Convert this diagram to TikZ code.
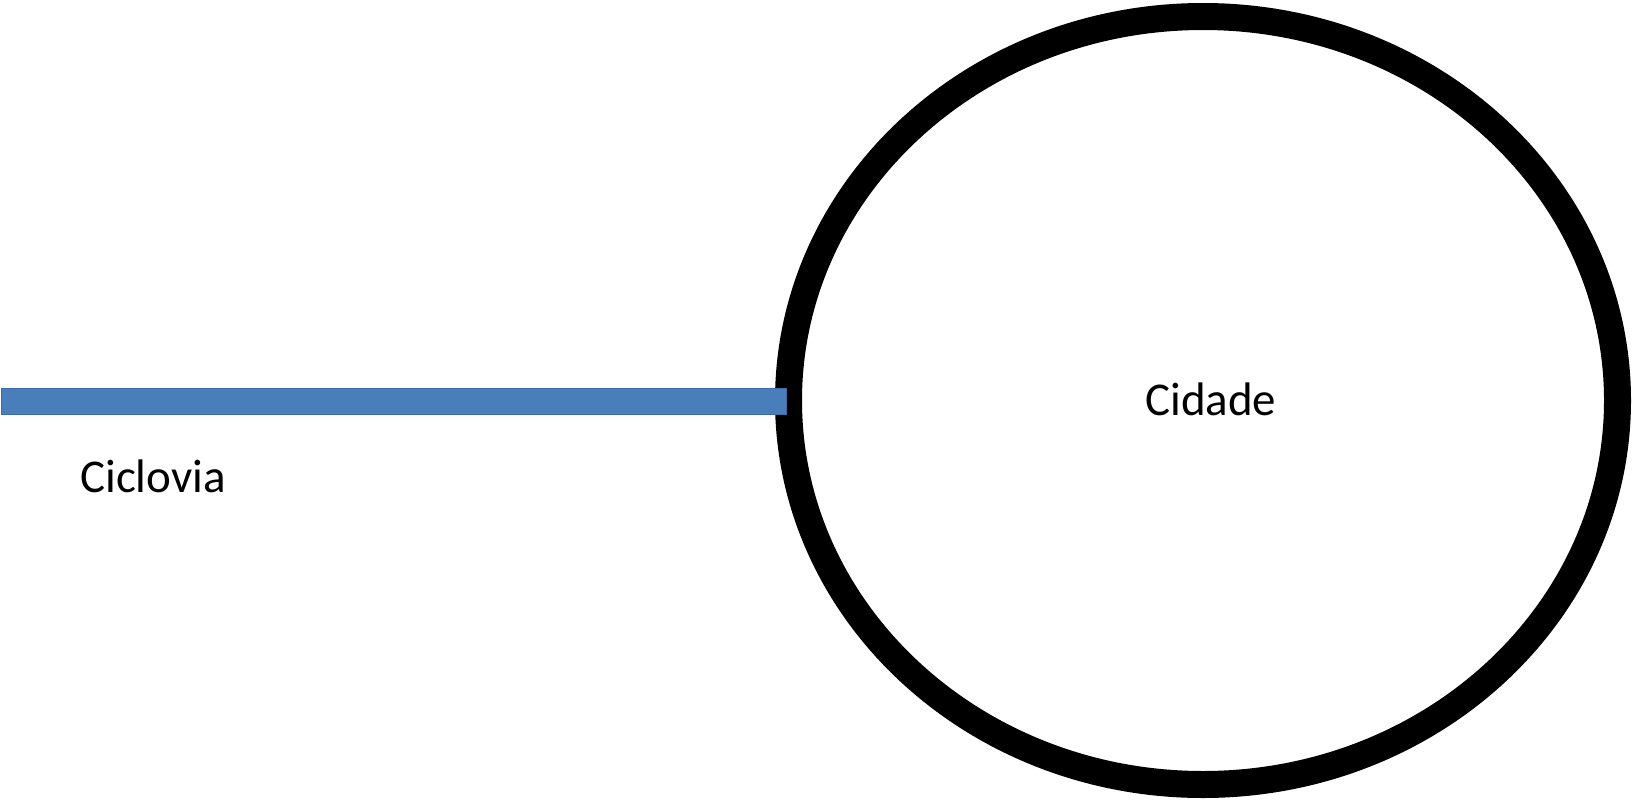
\documentclass[tikz,border=0pt]{standalone}
\usepackage{fontspec}
\setmainfont{Carlito}
\usetikzlibrary{shapes.geometric}
\definecolor{lanefill}{HTML}{4A7EBB}
\definecolor{laneedge}{HTML}{3E6DA6}
\begin{document}
\begin{tikzpicture}[x=1pt,y=-1pt,
  ring/.style={draw=black, line width=27pt, ellipse, inner sep=0pt,
    minimum width=829pt, minimum height=768pt},
  lane/.style={fill=lanefill, draw=laneedge, line width=1pt, rectangle, inner sep=0pt,
    minimum width=785pt, minimum height=26pt},
  caption/.style={font=\fontsize{47}{56}\selectfont, inner sep=0pt, anchor=base west}]
  \useasboundingbox (0,0) rectangle (1633,801);
  % the city boundary
  \node[ring] (city) at (1203,400.5) {};
  % the cycle lane reaching the city
  \node[lane] (cycleway) at (393.5,401) {};
  % labels
  \node[caption] (citylabel) at (1145,415.5) {Cidade};
  \node[caption] (lanelabel) at (80,492) {Ciclovia};
\end{tikzpicture}
\end{document}
